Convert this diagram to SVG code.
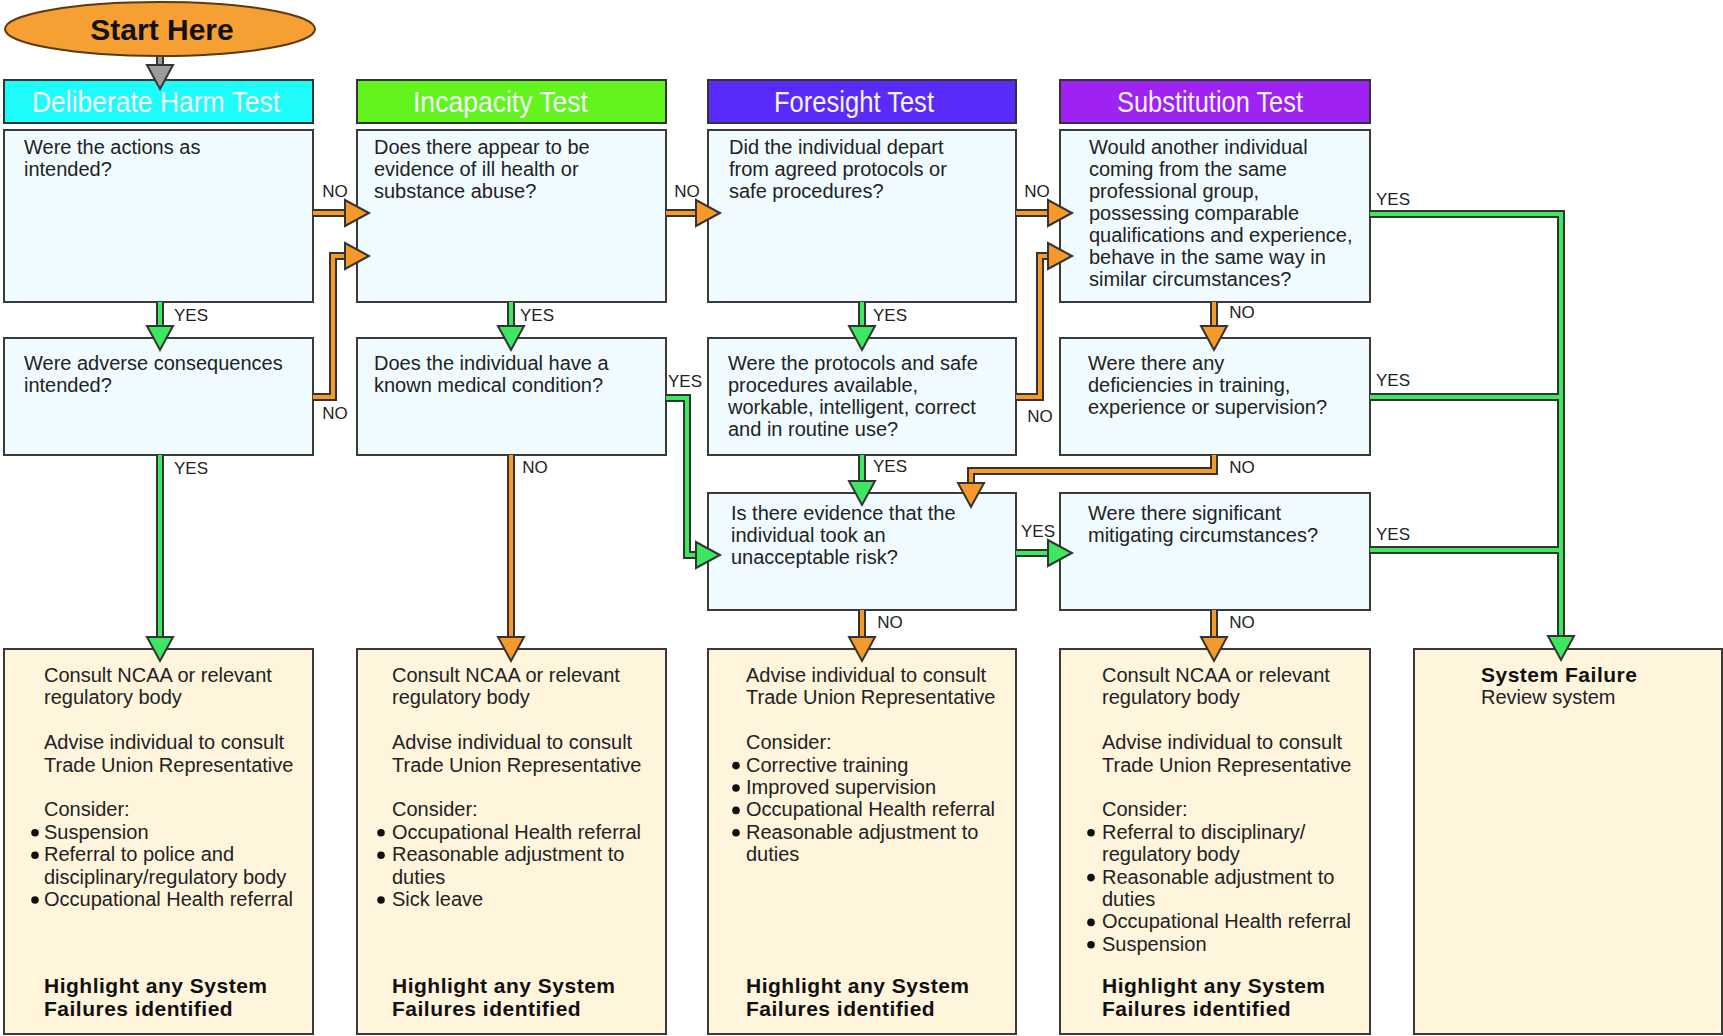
<svg xmlns="http://www.w3.org/2000/svg" width="1723" height="1036" viewBox="0 0 1723 1036">
<defs>
<style>
.hdr{stroke:#333;stroke-width:2}
.htxt{font-family:"Liberation Sans",Arial,sans-serif;font-size:30px;fill:#F4F4FF}
.q{fill:#EFFBFF;stroke:#3a3a3a;stroke-width:2}
.o{fill:#FFF4DC;stroke:#3a3a3a;stroke-width:2}
.t{font-family:"Liberation Sans",Arial,sans-serif;font-size:20px;fill:#222}
.b{font-weight:bold;font-size:21px;letter-spacing:0.5px;fill:#111}
.lbl{font-family:"Liberation Sans",Arial,sans-serif;font-size:17px;fill:#222;text-anchor:middle}
.out{fill:none;stroke:#333;stroke-width:8;stroke-linejoin:miter}
.ig{fill:none;stroke:#3DE860;stroke-width:4;stroke-linejoin:miter}
.io{fill:none;stroke:#F59A2A;stroke-width:4;stroke-linejoin:miter}
.ix{fill:none;stroke:#9C9C9C;stroke-width:4}
.hg{fill:#3DE860;stroke:#333;stroke-width:2;stroke-linejoin:miter}
.ho{fill:#F59A2A;stroke:#333;stroke-width:2;stroke-linejoin:miter}
.hx{fill:#9C9C9C;stroke:#333;stroke-width:2;stroke-linejoin:miter}
.dot{fill:#111}
</style>
<path id="ah" d="M-13,-24 L13,-24 L0,0 Z"/>
</defs>
<rect width="1723" height="1036" fill="#fff"/>

<g id="start">
<ellipse cx="160" cy="29" rx="155" ry="27" fill="#F6A033" stroke="#5a3a12" stroke-width="2"/>
<text x="162" y="40" text-anchor="middle" font-family="'Liberation Sans',Arial,sans-serif" font-size="30" font-weight="bold" fill="#111">Start Here</text>
</g>

<g id="hdr-deliberate"><rect class="hdr" x="4" y="80" width="309" height="43" fill="#1EFBFB"/><text class="htxt" x="32" y="112" textLength="248" lengthAdjust="spacingAndGlyphs">Deliberate Harm Test</text></g>
<g id="hdr-incapacity"><rect class="hdr" x="357" y="80" width="309" height="43" fill="#62F41C"/><text class="htxt" x="413" y="112" textLength="175" lengthAdjust="spacingAndGlyphs">Incapacity Test</text></g>
<g id="hdr-foresight"><rect class="hdr" x="708" y="80" width="308" height="43" fill="#5A2AF8"/><text class="htxt" x="774" y="112" textLength="160" lengthAdjust="spacingAndGlyphs">Foresight Test</text></g>
<g id="hdr-substitution"><rect class="hdr" x="1060" y="80" width="310" height="43" fill="#9E22F2"/><text class="htxt" x="1117" y="112" textLength="186" lengthAdjust="spacingAndGlyphs">Substitution Test</text></g>

<g id="q1"><rect class="q" x="4" y="130" width="309" height="172"/>
<text class="t"><tspan x="24" y="154">Were the actions as</tspan><tspan x="24" y="176">intended?</tspan></text></g>
<g id="q2"><rect class="q" x="357" y="130" width="309" height="172"/>
<text class="t"><tspan x="374" y="154">Does there appear to be</tspan><tspan x="374" y="176">evidence of ill health or</tspan><tspan x="374" y="198">substance abuse?</tspan></text></g>
<g id="q3"><rect class="q" x="708" y="130" width="308" height="172"/>
<text class="t"><tspan x="729" y="154">Did the individual depart</tspan><tspan x="729" y="176">from agreed protocols or</tspan><tspan x="729" y="198">safe procedures?</tspan></text></g>
<g id="q4"><rect class="q" x="1060" y="130" width="310" height="172"/>
<text class="t"><tspan x="1089" y="154">Would another individual</tspan><tspan x="1089" y="176">coming from the same</tspan><tspan x="1089" y="198">professional group,</tspan><tspan x="1089" y="220">possessing comparable</tspan><tspan x="1089" y="242">qualifications and experience,</tspan><tspan x="1089" y="264">behave in the same way in</tspan><tspan x="1089" y="286">similar circumstances?</tspan></text></g>
<g id="q5"><rect class="q" x="4" y="338" width="309" height="117"/>
<text class="t"><tspan x="24" y="370">Were adverse consequences</tspan><tspan x="24" y="392">intended?</tspan></text></g>
<g id="q6"><rect class="q" x="357" y="338" width="309" height="117"/>
<text class="t"><tspan x="374" y="370">Does the individual have a</tspan><tspan x="374" y="392">known medical condition?</tspan></text></g>
<g id="q7"><rect class="q" x="708" y="338" width="308" height="117"/>
<text class="t"><tspan x="728" y="370">Were the protocols and safe</tspan><tspan x="728" y="392">procedures available,</tspan><tspan x="728" y="414">workable, intelligent, correct</tspan><tspan x="728" y="436">and in routine use?</tspan></text></g>
<g id="q8"><rect class="q" x="1060" y="338" width="310" height="117"/>
<text class="t"><tspan x="1088" y="370">Were there any</tspan><tspan x="1088" y="392">deficiencies in training,</tspan><tspan x="1088" y="414">experience or supervision?</tspan></text></g>
<g id="q9"><rect class="q" x="708" y="493" width="308" height="117"/>
<text class="t"><tspan x="731" y="520">Is there evidence that the</tspan><tspan x="731" y="542">individual took an</tspan><tspan x="731" y="564">unacceptable risk?</tspan></text></g>
<g id="q10"><rect class="q" x="1060" y="493" width="310" height="117"/>
<text class="t"><tspan x="1088" y="520">Were there significant</tspan><tspan x="1088" y="542">mitigating circumstances?</tspan></text></g>

<g id="o1"><rect class="o" x="4" y="649" width="309" height="385"/>
<text class="t"><tspan x="44" y="682">Consult NCAA or relevant</tspan><tspan x="44" y="704.4">regulatory body</tspan><tspan x="44" y="749.2">Advise individual to consult</tspan><tspan x="44" y="771.6">Trade Union Representative</tspan><tspan x="44" y="816.4">Consider:</tspan><tspan x="44" y="838.8">Suspension</tspan><tspan x="44" y="861.2">Referral to police and</tspan><tspan x="44" y="883.6">disciplinary/regulatory body</tspan><tspan x="44" y="906">Occupational Health referral</tspan></text>
<circle class="dot" cx="35" cy="832.8" r="3.8"/><circle class="dot" cx="35" cy="855.2" r="3.8"/><circle class="dot" cx="35" cy="900" r="3.8"/>
<text class="t b"><tspan x="44" y="993">Highlight any System</tspan><tspan x="44" y="1016">Failures identified</tspan></text></g>

<g id="o2"><rect class="o" x="357" y="649" width="309" height="385"/>
<text class="t"><tspan x="392" y="682">Consult NCAA or relevant</tspan><tspan x="392" y="704.4">regulatory body</tspan><tspan x="392" y="749.2">Advise individual to consult</tspan><tspan x="392" y="771.6">Trade Union Representative</tspan><tspan x="392" y="816.4">Consider:</tspan><tspan x="392" y="838.8">Occupational Health referral</tspan><tspan x="392" y="861.2">Reasonable adjustment to</tspan><tspan x="392" y="883.6">duties</tspan><tspan x="392" y="906">Sick leave</tspan></text>
<circle class="dot" cx="381" cy="832.8" r="3.8"/><circle class="dot" cx="381" cy="855.2" r="3.8"/><circle class="dot" cx="381" cy="900" r="3.8"/>
<text class="t b"><tspan x="392" y="993">Highlight any System</tspan><tspan x="392" y="1016">Failures identified</tspan></text></g>

<g id="o3"><rect class="o" x="708" y="649" width="308" height="385"/>
<text class="t"><tspan x="746" y="682">Advise individual to consult</tspan><tspan x="746" y="704.4">Trade Union Representative</tspan><tspan x="746" y="749.2">Consider:</tspan><tspan x="746" y="771.6">Corrective training</tspan><tspan x="746" y="794">Improved supervision</tspan><tspan x="746" y="816.4">Occupational Health referral</tspan><tspan x="746" y="838.8">Reasonable adjustment to</tspan><tspan x="746" y="861.2">duties</tspan></text>
<circle class="dot" cx="736" cy="765.6" r="3.8"/><circle class="dot" cx="736" cy="788" r="3.8"/><circle class="dot" cx="736" cy="810.4" r="3.8"/><circle class="dot" cx="736" cy="832.8" r="3.8"/>
<text class="t b"><tspan x="746" y="993">Highlight any System</tspan><tspan x="746" y="1016">Failures identified</tspan></text></g>

<g id="o4"><rect class="o" x="1060" y="649" width="310" height="385"/>
<text class="t"><tspan x="1102" y="682">Consult NCAA or relevant</tspan><tspan x="1102" y="704.4">regulatory body</tspan><tspan x="1102" y="749.2">Advise individual to consult</tspan><tspan x="1102" y="771.6">Trade Union Representative</tspan><tspan x="1102" y="816.4">Consider:</tspan><tspan x="1102" y="838.8">Referral to disciplinary/</tspan><tspan x="1102" y="861.2">regulatory body</tspan><tspan x="1102" y="883.6">Reasonable adjustment to</tspan><tspan x="1102" y="906">duties</tspan><tspan x="1102" y="928.4">Occupational Health referral</tspan><tspan x="1102" y="950.8">Suspension</tspan></text>
<circle class="dot" cx="1091" cy="832.8" r="3.8"/><circle class="dot" cx="1091" cy="877.6" r="3.8"/><circle class="dot" cx="1091" cy="922.4" r="3.8"/><circle class="dot" cx="1091" cy="944.8" r="3.8"/>
<text class="t b"><tspan x="1102" y="993">Highlight any System</tspan><tspan x="1102" y="1016">Failures identified</tspan></text></g>

<g id="o5"><rect class="o" x="1414" y="649" width="308" height="385"/>
<text class="t b" x="1481" y="682">System Failure</text>
<text class="t" x="1481" y="704.4">Review system</text></g>

<g id="connectors">
<g id="outlines">
<path class="out" d="M160,57 V66"/>
<path class="out" d="M160,302 V327"/>
<path class="out" d="M511,302 V327"/>
<path class="out" d="M862,302 V327"/>
<path class="out" d="M1214,302 V327"/>
<path class="out" d="M313,213 H346"/>
<path class="out" d="M666,213 H697"/>
<path class="out" d="M1016,213 H1049"/>
<path class="out" d="M313,397 H333 V256 H346"/>
<path class="out" d="M1016,397 H1040 V256 H1049"/>
<path class="out" d="M666,398 H687 V555 H697"/>
<path class="out" d="M862,455 V482"/>
<path class="out" d="M1214,455 V471 H971 V484"/>
<path class="out" d="M1016,553 H1049"/>
<path class="out" d="M862,610 V638"/>
<path class="out" d="M1214,610 V638"/>
<path class="out" d="M160,455 V638"/>
<path class="out" d="M511,455 V638"/>
<path class="out" d="M1370,214 H1561 V637"/>
<path class="out" d="M1370,397 H1561"/>
<path class="out" d="M1370,550 H1561"/>
</g>
<g id="fills">
<path class="ix" d="M160,57 V67"/>
<path class="ig" d="M160,302 V328"/>
<path class="ig" d="M511,302 V328"/>
<path class="ig" d="M862,302 V328"/>
<path class="io" d="M1214,302 V328"/>
<path class="io" d="M313,213 H347"/>
<path class="io" d="M666,213 H698"/>
<path class="io" d="M1016,213 H1050"/>
<path class="io" d="M313,397 H333 V256 H347"/>
<path class="io" d="M1016,397 H1040 V256 H1050"/>
<path class="ig" d="M666,398 H687 V555 H698"/>
<path class="ig" d="M862,455 V483"/>
<path class="io" d="M1214,455 V471 H971 V485"/>
<path class="ig" d="M1016,553 H1050"/>
<path class="io" d="M862,610 V639"/>
<path class="io" d="M1214,610 V639"/>
<path class="ig" d="M160,455 V639"/>
<path class="io" d="M511,455 V639"/>
<path class="ig" d="M1370,214 H1561 V638"/>
<path class="ig" d="M1370,397 H1561"/>
<path class="ig" d="M1370,550 H1561"/>
</g>
<g id="heads">
<use href="#ah" class="hx" transform="translate(160,89)"/>
<use href="#ah" class="hg" transform="translate(160,350)"/>
<use href="#ah" class="hg" transform="translate(511,350)"/>
<use href="#ah" class="hg" transform="translate(862,350)"/>
<use href="#ah" class="ho" transform="translate(1214,350)"/>
<use href="#ah" class="ho" transform="translate(369,213) rotate(-90)"/>
<use href="#ah" class="ho" transform="translate(720,213) rotate(-90)"/>
<use href="#ah" class="ho" transform="translate(1072,213) rotate(-90)"/>
<use href="#ah" class="ho" transform="translate(369,256) rotate(-90)"/>
<use href="#ah" class="ho" transform="translate(1072,256) rotate(-90)"/>
<use href="#ah" class="hg" transform="translate(720,555) rotate(-90)"/>
<use href="#ah" class="hg" transform="translate(862,505)"/>
<use href="#ah" class="ho" transform="translate(971,507)"/>
<use href="#ah" class="hg" transform="translate(1072,553) rotate(-90)"/>
<use href="#ah" class="ho" transform="translate(862,661)"/>
<use href="#ah" class="ho" transform="translate(1214,661)"/>
<use href="#ah" class="hg" transform="translate(160,661)"/>
<use href="#ah" class="ho" transform="translate(511,661)"/>
<use href="#ah" class="hg" transform="translate(1561,660)"/>
</g>
<g id="labels">
<text class="lbl" x="335" y="197">NO</text>
<text class="lbl" x="335" y="419">NO</text>
<text class="lbl" x="687" y="197">NO</text>
<text class="lbl" x="1037" y="197">NO</text>
<text class="lbl" x="191" y="321">YES</text>
<text class="lbl" x="537" y="321">YES</text>
<text class="lbl" x="890" y="321">YES</text>
<text class="lbl" x="1242" y="318">NO</text>
<text class="lbl" x="685" y="387">YES</text>
<text class="lbl" x="1040" y="422">NO</text>
<text class="lbl" x="191" y="474">YES</text>
<text class="lbl" x="535" y="473">NO</text>
<text class="lbl" x="890" y="472">YES</text>
<text class="lbl" x="1242" y="473">NO</text>
<text class="lbl" x="1038" y="537">YES</text>
<text class="lbl" x="890" y="628">NO</text>
<text class="lbl" x="1242" y="628">NO</text>
<text class="lbl" x="1393" y="205">YES</text>
<text class="lbl" x="1393" y="386">YES</text>
<text class="lbl" x="1393" y="540">YES</text>
</g>
</g>
</svg>
